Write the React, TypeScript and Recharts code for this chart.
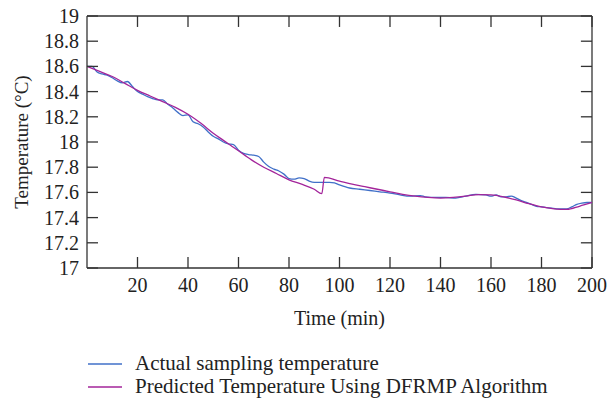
import React from 'react';
import { LineChart, Line, XAxis, YAxis, ReferenceLine } from 'recharts';

// Actual sampling temperature (blue)
const actualTime = [0, 2, 4, 6, 8, 10, 12, 14, 16, 18, 20, 22, 24, 26, 28, 30, 32, 34, 36, 38, 40, 42, 44, 46, 48, 50, 52, 54, 56, 58, 60, 62, 64, 66, 68, 70, 72, 74, 76, 78, 80, 82, 84, 86, 88, 90, 92, 94, 96, 98, 100, 104, 108, 112, 116, 120, 124, 128, 132, 134, 138, 142, 146, 150, 154, 158, 160, 162, 164, 166, 168, 170, 172, 174, 176, 178, 180, 182, 184, 186, 188, 190, 192, 194, 196, 198, 200];
const actualTemp = [18.6, 18.6, 18.555, 18.54, 18.53, 18.51, 18.485, 18.47, 18.48, 18.44, 18.4, 18.38, 18.36, 18.345, 18.335, 18.335, 18.3, 18.27, 18.235, 18.21, 18.215, 18.16, 18.145, 18.12, 18.08, 18.045, 18.025, 18.0, 17.985, 17.98, 17.935, 17.91, 17.9, 17.895, 17.885, 17.84, 17.805, 17.785, 17.77, 17.745, 17.71, 17.705, 17.715, 17.71, 17.69, 17.68, 17.68, 17.68, 17.68, 17.675, 17.66, 17.635, 17.625, 17.615, 17.605, 17.595, 17.58, 17.57, 17.575, 17.565, 17.56, 17.56, 17.555, 17.57, 17.585, 17.58, 17.57, 17.58, 17.565, 17.565, 17.57, 17.555, 17.535, 17.52, 17.505, 17.49, 17.485, 17.48, 17.475, 17.47, 17.47, 17.47, 17.485, 17.505, 17.515, 17.52, 17.52];

// Predicted temperature using DFRMP (purple)
const predTime = [0, 5, 10, 15, 20, 25, 30, 35, 40, 45, 50, 55, 60, 65, 70, 75, 80, 85, 90, 93, 94, 100, 105, 110, 115, 120, 125, 130, 135, 140, 145, 150, 155, 160, 165, 170, 175, 180, 185, 190, 195, 200];
const predTemp = [18.6, 18.56, 18.52, 18.465, 18.41, 18.365, 18.32, 18.275, 18.22, 18.15, 18.07, 18.0, 17.93, 17.86, 17.8, 17.75, 17.7, 17.665, 17.625, 17.59, 17.72, 17.69, 17.665, 17.645, 17.625, 17.605, 17.585, 17.57, 17.56, 17.555, 17.56, 17.57, 17.583, 17.58, 17.565, 17.54, 17.51, 17.485, 17.47, 17.465, 17.49, 17.52];

const xTicks = [20, 40, 60, 80, 100, 120, 140, 160, 180, 200];
const yTicks = [17, 17.2, 17.4, 17.6, 17.8, 18, 18.2, 18.4, 18.6, 18.8, 19];

const seriesNames = ['Actual sampling temperature', 'Predicted Temperature Using DFRMP Algorithm'];
const seriesColors = ['#4070c8', '#a3249a'];

const FONT = '"Liberation Serif", "Times New Roman", serif';
const AXIS = '#333';
const TICK_LEN = 11;
// same tick length expressed in data units, for the top / right frame ticks
const X_TICK_DATA = 0.087; // ~11px on the temperature scale
const Y_TICK_DATA = 4.4; // ~11px on the time scale

const actualData = actualTime.map((t, i) => ({ t, v: actualTemp[i] }));
const predData = predTime.map((t, i) => ({ t, v: predTemp[i] }));

// inward tick marks + labels (recharts draws ticks outward)
const LeftTick = (p: any) => (
  <g>
    <line x1={p.x + 8} x2={p.x + 8 + TICK_LEN} y1={p.y} y2={p.y} stroke={AXIS} strokeWidth={1.3} />
    <text x={p.x} y={p.y} dy="0.35em" textAnchor="end" fontSize={20} fill="#222" fontFamily={FONT}>
      {p.payload.value}
    </text>
  </g>
);

const BottomTick = (p: any) => (
  <g>
    <line x1={p.x} x2={p.x} y1={p.y} y2={p.y - TICK_LEN} stroke={AXIS} strokeWidth={1.3} />
    <text x={p.x} y={p.y + 24} textAnchor="middle" fontSize={20} fill="#222" fontFamily={FONT}>
      {p.payload.value}
    </text>
  </g>
);

export default function App() {
  return (
    <div style={{ position: 'absolute', left: 0, top: 0, width: 608, height: 413, background: '#fff' }}>
      <LineChart width={608} height={413} margin={{ top: 16, right: 16, left: 0, bottom: 85 }}>
        <XAxis
          dataKey="t"
          type="number"
          domain={[0, 200]}
          ticks={xTicks}
          interval={0}
          height={60}
          tickSize={0}
          tickMargin={0}
          tickLine={false}
          axisLine={{ stroke: AXIS, strokeWidth: 1.3 }}
          tick={<BottomTick />}
          label={{ value: 'Time (min)', position: 'insideBottom', offset: 3, style: { fontSize: 20, fill: '#222', fontFamily: FONT } }}
        />
        <YAxis
          type="number"
          domain={[17, 19]}
          ticks={yTicks}
          interval={0}
          width={87}
          tickSize={0}
          tickMargin={8}
          tickLine={false}
          axisLine={{ stroke: AXIS, strokeWidth: 1.3 }}
          tick={<LeftTick />}
          label={{ value: 'Temperature (°C)', angle: -90, position: 'insideLeft', offset: 21, style: { textAnchor: 'middle', fontSize: 19, fill: '#222', fontFamily: FONT } }}
        />
        {/* box frame: top and right edges with inward ticks */}
        <ReferenceLine y={19} stroke={AXIS} strokeWidth={1.3} />
        <ReferenceLine x={200} stroke={AXIS} strokeWidth={1.3} />
        {xTicks.map((t) => (
          <ReferenceLine key={'tx' + t} segment={[{ x: t, y: 19 }, { x: t, y: 19 - X_TICK_DATA }]} stroke={AXIS} strokeWidth={1.3} />
        ))}
        {yTicks.map((v) => (
          <ReferenceLine key={'ty' + v} segment={[{ x: 200, y: v }, { x: 200 - Y_TICK_DATA, y: v }]} stroke={AXIS} strokeWidth={1.3} />
        ))}
        <Line data={actualData} dataKey="v" type="monotone" stroke={seriesColors[0]} strokeWidth={1.3} dot={false} isAnimationActive={false} />
        <Line data={predData} dataKey="v" type="monotone" stroke={seriesColors[1]} strokeWidth={1.3} dot={false} isAnimationActive={false} />
      </LineChart>
      <div style={{ position: 'absolute', left: 88, top: 352, fontFamily: FONT, fontSize: 21, color: '#222' }}>
        {seriesNames.map((name, i) => (
          <div key={name} style={{ display: 'flex', alignItems: 'center', height: 23 }}>
            <svg width={34} height={4} style={{ marginRight: 13 }}>
              <line x1={0} y1={2} x2={34} y2={2} stroke={seriesColors[i]} strokeWidth={1.3} />
            </svg>
            <span>{name}</span>
          </div>
        ))}
      </div>
    </div>
  );
}
